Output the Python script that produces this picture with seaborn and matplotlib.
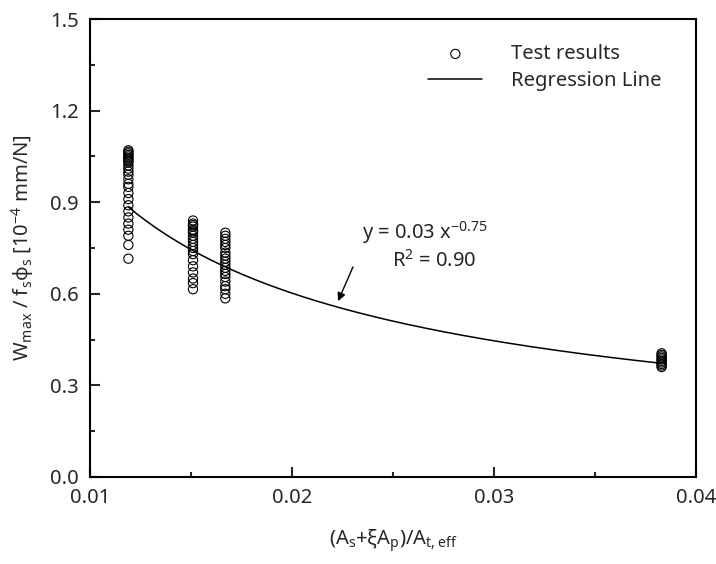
import matplotlib
matplotlib.use('Agg')
import matplotlib.pyplot as plt
import seaborn as sns
import numpy as np
import pandas as pd
from matplotlib.ticker import MultipleLocator, FormatStrFormatter

sns.set_style('ticks')
plt.rcParams['font.family'] = ['Noto Sans', 'DejaVu Sans']
plt.rcParams['mathtext.default'] = 'regular'
plt.rcParams['axes.unicode_minus'] = False

# test results: reinforcement ratio groups and measured crack width ratios
x_groups = [0.0119, 0.0151, 0.0167, 0.0383]
y_group1 = [0.715, 0.76, 0.79, 0.81, 0.83, 0.85, 0.87, 0.89, 0.91, 0.93, 0.95, 0.96,
            0.975, 0.99, 1.00, 1.01, 1.02, 1.03, 1.035, 1.04, 1.045, 1.05, 1.055,
            1.06, 1.065, 1.07]
y_group2 = [0.615, 0.635, 0.65, 0.67, 0.69, 0.71, 0.73, 0.74, 0.75, 0.76, 0.77,
            0.78, 0.79, 0.80, 0.805, 0.81, 0.82, 0.825, 0.83, 0.84]
y_group3 = [0.585, 0.60, 0.615, 0.625, 0.64, 0.655, 0.665, 0.675, 0.685, 0.695,
            0.705, 0.715, 0.725, 0.735, 0.75, 0.76, 0.77, 0.78, 0.79, 0.80]
y_group4 = [0.36, 0.365, 0.37, 0.375, 0.38, 0.385, 0.39, 0.395, 0.40, 0.405]

# power regression y = a * x^b
reg_a = 0.0333
reg_b = -0.74
reg_range = [0.0119, 0.0383]

rows = []
for xg, ys in zip(x_groups, [y_group1, y_group2, y_group3, y_group4]):
    for y in ys:
        rows.append((xg, y))
df = pd.DataFrame(rows, columns=['ratio', 'w'])

xs = np.linspace(reg_range[0], reg_range[1], 200)
reg = pd.DataFrame({'ratio': xs, 'w': reg_a * xs ** reg_b})

fig = plt.figure(figsize=(7.16, 5.64), dpi=100)
ax = fig.add_axes([0.1257, 0.1543, 0.8463, 0.812])

sns.scatterplot(data=df, x='ratio', y='w', ax=ax, marker='o', s=44,
                facecolor='none', edgecolor='black', linewidth=0.8,
                label='Test results')
sns.lineplot(data=reg, x='ratio', y='w', ax=ax, color='black', linewidth=1.1,
             label='Regression Line')

ax.set_xlim(0.01, 0.04)
ax.set_ylim(0.0, 1.5)
ax.xaxis.set_major_locator(MultipleLocator(0.01))
ax.xaxis.set_minor_locator(MultipleLocator(0.005))
ax.yaxis.set_major_locator(MultipleLocator(0.3))
ax.yaxis.set_minor_locator(MultipleLocator(0.15))
ax.xaxis.set_major_formatter(FormatStrFormatter('%.2f'))
ax.yaxis.set_major_formatter(FormatStrFormatter('%.1f'))
ax.tick_params(which='both', direction='in', top=False, right=False,
               width=1.5, labelsize=14.5, pad=8)
ax.tick_params(which='major', length=7)
ax.tick_params(which='minor', length=3.5)
for sp in ax.spines.values():
    sp.set_linewidth(1.5)
    sp.set_color('black')

ax.set_xlabel(r'(A$_s$+$\xi$A$_p$)/A$_{t,eff}$', fontsize=14.5, labelpad=14)
ax.set_ylabel(r'W$_{max}$ / f$_s$$\phi_s$ [10$^{-4}$ mm/N]', fontsize=14.5, labelpad=10)

ax.annotate('', xy=(0.02228, 0.576), xytext=(0.02302, 0.688),
            arrowprops=dict(arrowstyle='-|>', color='black', lw=1,
                            mutation_scale=12, shrinkA=0, shrinkB=0))
ax.text(0.02345, 0.802, r'y = 0.03 x$^{-0.75}$', fontsize=14.5, va='center')
ax.text(0.02495, 0.707, r'R$^2$ = 0.90', fontsize=14.5, va='center')

ax.legend(loc='upper left', bbox_to_anchor=(0.558, 0.945), frameon=False,
          fontsize=14.5, handlelength=2.7, handletextpad=1.4, labelspacing=0.35,
          borderpad=0, borderaxespad=0)

fig.savefig('out.png', dpi=100)
